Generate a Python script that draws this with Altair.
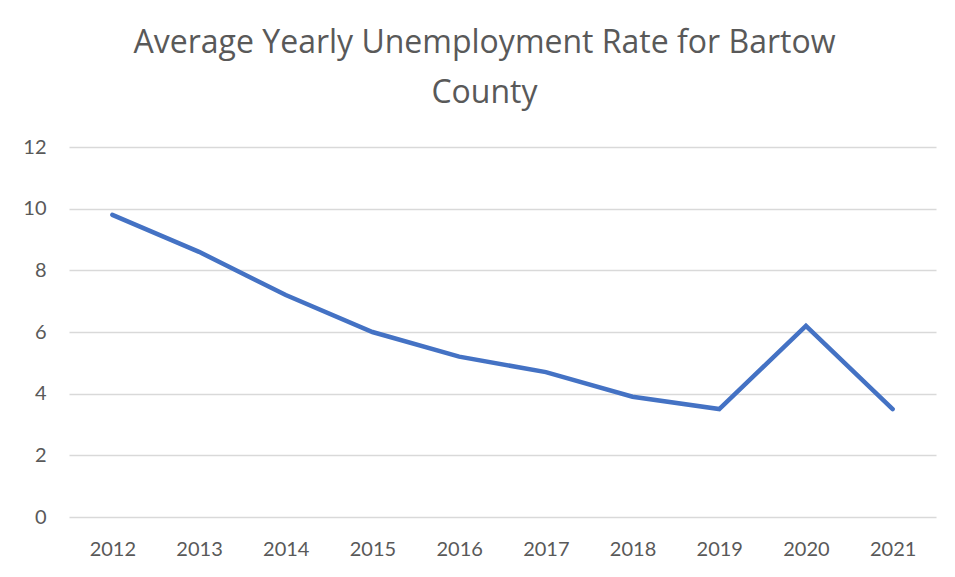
import altair as alt
import pandas as pd

years = ["2012", "2013", "2014", "2015", "2016", "2017", "2018", "2019", "2020", "2021"]
rates = [9.8, 8.6, 7.2, 6.0, 5.2, 4.7, 3.9, 3.5, 6.2, 3.5]
y_ticks = [0, 2, 4, 6, 8, 10, 12]

df = pd.DataFrame({"Year": years, "Rate": rates})

FONT = "Lato"
GREY = "#595959"

chart = alt.Chart(df).mark_line(color="#4472C4", strokeWidth=4.5, strokeCap="round", strokeJoin="miter").encode(
    x=alt.X("Year:O", sort=years, title=None,
            scale=alt.Scale(type="point", padding=0.5),
            axis=alt.Axis(labelAngle=0, domain=False, ticks=False, grid=False,
                          labelPadding=22, labelFontSize=20, labelColor=GREY, labelFont=FONT)),
    y=alt.Y("Rate:Q", title=None,
            scale=alt.Scale(domain=[0, 12], nice=False, zero=True),
            axis=alt.Axis(values=y_ticks, domain=False, ticks=False, grid=True,
                          gridColor="#d9d9d9", gridWidth=1.3,
                          labelPadding=23, labelFontSize=20, labelColor=GREY, labelFont=FONT)),
).properties(
    width=867,
    height=370,
    background="white",
    title=alt.TitleParams(
        text=["Average Yearly Unemployment Rate for Bartow", "County"],
        fontSize=32, font="Open Sans", fontWeight="normal", color=GREY,
        lineHeight=50, anchor="middle", offset=27, dx=-18,
    ),
    padding={"left": 61, "top": 139, "right": 11, "bottom": 52},
    autosize=alt.AutoSizeParams(type="none"),
).configure_view(strokeWidth=0)

chart.save("out.html", embed_options={"renderer": "svg", "actions": False})
